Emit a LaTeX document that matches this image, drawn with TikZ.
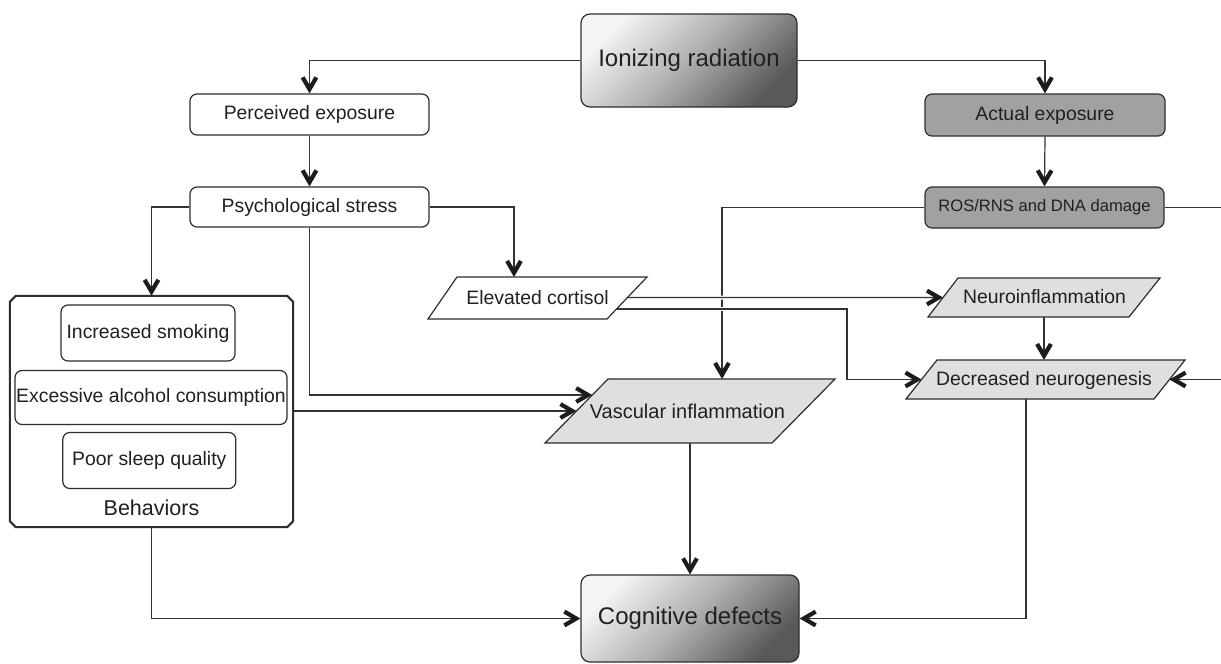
\documentclass[tikz,border=0pt]{standalone}
\usepackage{fontspec}
\setmainfont{Liberation Sans}
\usetikzlibrary{arrows.meta,calc}
\definecolor{lc}{HTML}{333333}
\definecolor{tipc}{HTML}{1C1C1C}
\definecolor{bc}{HTML}{2E2E2E}
\definecolor{tc}{HTML}{231F20}
\definecolor{midgray}{HTML}{A0A1A3}
\definecolor{lightgray}{HTML}{DEDFE0}
\definecolor{gradA}{HTML}{F4F4F4}
\definecolor{gradB}{HTML}{AEAFB1}
\definecolor{gradC}{HTML}{58595B}
\pgfdeclarearrow{
  name=Chev,
  setup code={
    \pgfarrowssettipend{0pt}
    \pgfarrowssetlineend{-6pt}
    \pgfarrowssetvisualbackend{-17pt}
    \pgfarrowssetbackend{-17pt}
    \pgfarrowshullpoint{0pt}{0pt}
    \pgfarrowsupperhullpoint{-17pt}{8.5pt}
  },
  drawing code={
    \pgfpathmoveto{\pgfpoint{0pt}{0pt}}
    \pgfpathlineto{\pgfpoint{-15pt}{8.7pt}}
    \pgfpathlineto{\pgfpoint{-17.1pt}{5.1pt}}
    \pgfpathlineto{\pgfpoint{-8.4pt}{0pt}}
    \pgfpathlineto{\pgfpoint{-17.1pt}{-5.1pt}}
    \pgfpathlineto{\pgfpoint{-15pt}{-8.7pt}}
    \pgfpathclose
    \pgfusepathqfill
  }
}
\newcommand\fsN{\fontsize{19.4}{22}\selectfont}
\newcommand\fsS{\fontsize{16.6}{20}\selectfont}
\newcommand\fsV{\fontsize{20}{24}\selectfont}
\newcommand\fsB{\fontsize{21.5}{25}\selectfont}
\newcommand\fsL{\fontsize{24}{28}\selectfont}
\tikzset{
  conn/.style={draw=lc, line width=1.2pt, -{Chev[fill=tipc]}},
  gapline/.style={draw=white, line width=4pt},
  rbox/.style={draw=bc, line width=1.2pt, rounded corners=7pt, fill=white, inner sep=0pt, text=tc, font=\fsN},
  gbox/.style={rbox, fill=midgray},
  bigbox/.style={draw=bc, line width=1.2pt, rounded corners=9pt, inner sep=0pt, text=tc, font=\fsL,
     top color=gradA, bottom color=gradC, middle color=gradB, shading angle=45},
  para/.style={draw=bc, line width=1.2pt},
  ptext/.style={inner sep=0pt, text=tc, font=\fsN},
}
\begin{document}
\begin{tikzpicture}[x=1pt,y=-1pt]
\useasboundingbox[fill=white] (0,0) rectangle (1221,664);

% main boxes
\node[bigbox, minimum width=216pt, minimum height=93pt] (ion) at (689,60.5) {Ionizing radiation};
\node[rbox, minimum width=239pt, minimum height=41pt] (perc) at (309.5,114.5) {Perceived exposure};
\node[rbox, minimum width=239pt, minimum height=40pt] (psych) at (309.5,207) {Psychological stress};
\node[gbox, minimum width=240pt, minimum height=42pt] (act) at (1045,115) {Actual exposure};
\node[gbox, minimum width=239pt, minimum height=41pt, font=\fsS] (ros) at (1044.5,207.5) {ROS/RNS and DNA damage};
\node[bigbox, minimum width=218pt, minimum height=87pt] (cog) at (690,618.5) {Cognitive defects};

% behaviors (chamfered frame)
\node[minimum width=283pt, minimum height=231pt, inner sep=0pt] (beh) at (151.5,411.5) {};
\draw[draw=bc, line width=2pt]
  ($(beh.north west)+(6,0)$) -- ($(beh.north east)+(-6,0)$) -- ($(beh.north east)+(0,6)$)
  -- ($(beh.south east)+(0,-6)$) -- ($(beh.south east)+(-6,0)$) -- ($(beh.south west)+(6,0)$)
  -- ($(beh.south west)+(0,-6)$) -- ($(beh.north west)+(0,6)$) -- cycle;
\node[rbox, minimum width=174pt, minimum height=56pt] (smk) at (148,333) {Increased smoking};
\node[rbox, minimum width=272pt, minimum height=54pt] (alc) at (151,397.5) {Excessive alcohol consumption};
\node[rbox, minimum width=173pt, minimum height=56pt] (slp) at (149.3,460.5) {Poor sleep quality};
\node[ptext, font=\fsB] (behl) at (151.5,508) {Behaviors};

% parallelogram corners
\coordinate (cTL) at (457,277); \coordinate (cTR) at (647,277);
\coordinate (cBR) at (607,319); \coordinate (cBL) at (428,319);
\coordinate (nTL) at (958,278); \coordinate (nTR) at (1160,278);
\coordinate (nBR) at (1129,317); \coordinate (nBL) at (928,317);
\coordinate (dTL) at (937,360); \coordinate (dTR) at (1185,360);
\coordinate (dBR) at (1154,399); \coordinate (dBL) at (906,399);
\coordinate (vTL) at (608,379); \coordinate (vTR) at (835,379);
\coordinate (vBR) at (772,443); \coordinate (vBL) at (545,443);

% connector end points
\coordinate (cIn) at (514,277);
\coordinate (v1) at ($(vTL)!0.25!(vBL)$);
\coordinate (v2) at ($(vTL)!0.5!(vBL)$);
\coordinate (vIn) at (722,379);
\coordinate (cO1) at ($(cTR)!0.49!(cBR)$);
\coordinate (nIn) at ($(nTL)!0.5!(nBL)$);
\coordinate (cO2) at ($(cTR)!0.76!(cBR)$);
\coordinate (dIn) at ($(dTL)!0.5!(dBL)$);
\coordinate (kx) at (847,0);
\coordinate (offR) at (1232,207.5);
\coordinate (dOut) at ($(dTR)!0.5!(dBR)$);
\coordinate (nOut) at (1044,317);
\coordinate (dTop) at (1044,360);
\coordinate (dBot) at (1026,399);
\coordinate (vBot) at (690,443);

% connectors
\draw[conn] (ion.west) -| (perc.north);
\draw[conn] (ion.east) -| (act.north);
\draw[conn] (perc.south) -- (psych.north);
\draw[conn] (act.south) -- (ros.north);
\draw[conn] (psych.west) -| (beh.north);
\draw[conn] (psych.east) -| (cIn);
\draw[conn] (psych.south) |- (v1);
\draw[conn] (beh.east |- v2) -- (v2);
\draw[conn] (ros.west) -| (vIn);
\draw[gapline] (cO1) -- (nIn);
\draw[gapline] (cO2) -- (cO2 -| kx);
\draw[conn] (cO1) -- (nIn);
\draw[conn] (cO2) -- (cO2 -| kx) |- (dIn);
\draw[conn] (ros.east) -- (offR) |- (dOut);
\draw[conn] (nOut) -- (dTop);
\draw[conn] (dBot) |- (cog.east);
\draw[conn] (vBot) -- (vBot |- cog.north);
\draw[conn] (beh.south) |- (cog.west);

% parallelograms
\draw[para, fill=white] (cTL) -- (cTR) -- (cBR) -- (cBL) -- cycle;
\draw[para, fill=lightgray] (nTL) -- (nTR) -- (nBR) -- (nBL) -- cycle;
\draw[para, fill=lightgray] (dTL) -- (dTR) -- (dBR) -- (dBL) -- cycle;
\draw[para, fill=lightgray] (vTL) -- (vTR) -- (vBR) -- (vBL) -- cycle;
\node[ptext] (cort) at (537.5,298) {Elevated cortisol};
\node[ptext] (neuro) at (1044.5,297) {Neuroinflammation};
\node[ptext] (decr) at (1044,380) {Decreased neurogenesis};
\node[ptext, font=\fsV] (vasc) at (687.5,411.5) {Vascular inflammation};
\end{tikzpicture}
\end{document}
